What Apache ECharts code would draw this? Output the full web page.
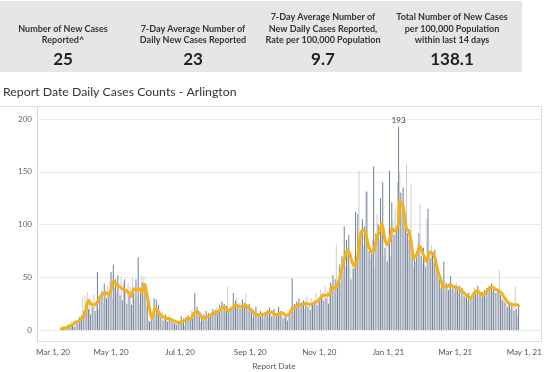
<!DOCTYPE html>
<html>
<head>
<meta charset="utf-8">
<script src="https://cdn.jsdelivr.net/npm/echarts@6/dist/echarts.min.js"></script>
<style>
html,body{margin:0;padding:0;background:#fff;}
#chart{width:547px;height:372px;}
</style>
</head>
<body>
<div id="chart"></div>
<script>
// ---- data ----
const startDate = '2020-03-18';
const dailyCases = [
  1, 0, 2, 3, 1, 4, 5,
  6, 4, 8, 5, 9, 3, 7,
  9, 6, 12, 8, 14, 31, 18,
  33, 24, 36, 20, 30, 15, 27,
  22, 34, 18, 28, 55, 19, 30,
  35, 37, 26, 44, 38, 30, 42,
  34, 46, 55, 30, 62, 40, 48,
  36, 52, 44, 33, 50, 28, 45,
  48, 38, 25, 44, 33, 41, 24,
  50, 36, 29, 48, 32, 69, 25,
  40, 52, 45, 50, 38, 22, 30,
  10, 8, 9, 12, 10, 30, 15,
  29, 18, 24, 14, 12, 17, 9,
  12, 15, 10, 8, 14, 11, 9,
  8, 10, 6, 9, 5, 7, 8,
  6, 13, 7, 11, 4, 12, 10,
  14, 9, 12, 18, 11, 17, 35,
  16, 22, 19, 13, 8, 12, 10,
  15, 12, 18, 9, 16, 14, 13,
  17, 20, 13, 19, 22, 15, 18,
  24, 19, 27, 21, 25, 18, 23,
  41, 20, 15, 22, 19, 35, 25,
  28, 30, 22, 26, 20, 24, 29,
  21, 26, 35, 24, 18, 25, 20,
  17, 12, 19, 14, 22, 11, 16,
  13, 18, 12, 15, 10, 17, 16,
  19, 14, 21, 16, 13, 18, 20,
  12, 16, 13, 22, 15, 18, 14,
  11, 16, 12, 14, 9, 13, 18,
  22, 49, 18, 25, 20, 27, 23,
  30, 21, 26, 24, 28, 20, 27,
  32, 22, 25, 19, 30, 26, 24,
  28, 35, 24, 31, 27, 38, 33,
  36, 28, 42, 30, 37, 25, 40,
  45, 38, 52, 35, 48, 81, 42,
  50, 62, 45, 70, 55, 98, 60,
  85, 72, 90, 60, 48, 66, 58,
  70, 112, 62, 110, 151, 88, 95,
  105, 80, 98, 132, 131, 70, 75,
  68, 72, 85, 155, 60, 92, 110,
  100, 85, 125, 95, 140, 70, 78,
  82, 65, 88, 151, 70, 121, 105,
  90, 115, 98, 140, 193, 150, 130,
  120, 135, 110, 100, 157, 92, 85,
  95, 139, 80, 60, 70, 65, 75,
  82, 92, 120, 70, 62, 78, 68,
  60, 106, 115, 70, 68, 80, 72,
  65, 76, 58, 62, 48, 55, 40,
  42, 38, 65, 36, 45, 40, 38,
  44, 51, 38, 42, 36, 40, 45,
  38, 35, 42, 30, 40, 36, 32,
  30, 34, 28, 35, 25, 32, 29,
  36, 40, 34, 38, 42, 33, 35,
  30, 36, 33, 38, 31, 40, 35,
  42, 38, 44, 36, 40, 39, 35,
  38, 36, 57, 33, 30, 28, 34,
  26, 30, 22, 28, 24, 20, 26,
  22, 18, 41, 20, 14, 25
];
const sevenDayAvg = [
  1, 1, 2, 2, 2, 3, 3,
  4, 4, 5, 5, 6, 7, 7,
  8, 9, 9, 10, 11, 12, 13,
  15, 20, 25, 28, 27, 25, 24,
  24, 23, 24, 24, 26, 29, 31,
  32, 33, 34, 35, 35, 35, 34,
  33, 33, 38, 42, 46, 45, 44,
  43, 42, 42, 41, 40, 39, 38,
  38, 37, 37, 37, 35, 34, 32,
  36, 39, 39, 38, 38, 38, 39,
  39, 35, 38, 41, 43, 38, 32,
  27, 20, 15, 11, 14, 18, 20,
  21, 19, 17, 15, 14, 13, 12,
  12, 11, 11, 11, 11, 11, 10,
  10, 9, 9, 8, 8, 7, 7,
  7, 7, 8, 8, 9, 9, 10,
  10, 11, 11, 11, 13, 16, 17,
  17, 18, 17, 16, 14, 12, 11,
  11, 12, 12, 13, 13, 14, 14,
  15, 15, 16, 16, 17, 17, 18,
  19, 20, 21, 22, 22, 21, 20,
  19, 18, 19, 20, 21, 22, 23,
  24, 24, 23, 23, 22, 22, 22,
  22, 23, 23, 23, 22, 21, 20,
  19, 18, 16, 16, 15, 15, 14,
  14, 14, 14, 15, 15, 15, 15,
  16, 16, 17, 17, 17, 16, 15,
  14, 14, 15, 15, 16, 16, 17,
  16, 15, 14, 13, 14, 15, 16,
  18, 20, 20, 21, 22, 23, 23,
  24, 24, 24, 25, 25, 25, 25,
  25, 25, 24, 24, 24, 25, 25,
  26, 26, 27, 28, 29, 30, 32,
  32, 33, 33, 33, 33, 33, 34,
  36, 39, 41, 40, 39, 39, 42,
  46, 50, 54, 58, 62, 67, 71,
  74, 76, 76, 72, 68, 64, 62,
  61, 60, 60, 70, 80, 88, 93,
  94, 95, 96, 92, 87, 82, 78,
  76, 74, 73, 75, 79, 84, 88,
  91, 94, 96, 101, 98, 92, 85,
  83, 81, 80, 84, 89, 96, 95,
  94, 93, 95, 97, 100, 123, 121,
  120, 118, 110, 102, 96, 95, 94,
  93, 85, 76, 68, 69, 70, 71,
  74, 77, 79, 77, 74, 71, 69,
  67, 65, 69, 72, 74, 74, 73,
  73, 69, 64, 59, 55, 52, 49,
  45, 40, 40, 41, 41, 41, 42,
  43, 43, 42, 41, 41, 41, 41,
  40, 39, 38, 37, 37, 36, 35,
  34, 33, 32, 31, 30, 31, 32,
  33, 35, 37, 38, 37, 36, 35,
  34, 33, 33, 34, 35, 36, 38,
  39, 40, 41, 41, 40, 39, 39,
  38, 38, 37, 36, 35, 33, 32,
  30, 29, 27, 26, 25, 24, 24,
  24, 24, 24, 24, 23, 23
];
const xTickDates = ['2020-03-01','2020-05-01','2020-07-01','2020-09-01','2020-11-01','2021-01-01','2021-03-01','2021-05-01'];
const xTickLabels = ['Mar 1, 20','May 1, 20','Jul 1, 20','Sep 1, 20','Nov 1, 20','Jan 1, 21','Mar 1, 21','May 1, 21'];
const yTicks = [0, 50, 100, 150, 200];
const kpiLabels = [
  ['Number of New Cases', 'Reported^'],
  ['7-Day Average Number of', 'Daily New Cases Reported'],
  ['7-Day Average Number of', 'New Daily Cases Reported,', 'Rate per 100,000 Population'],
  ['Total Number of New Cases', 'per 100,000 Population', 'within last 14 days']
];
const kpiValues = ['25', '23', '9.7', '138.1'];
const chartTitle = 'Report Date Daily Cases Counts - Arlington';
const xAxisTitle = 'Report Date';

// ---- helpers ----
const ORIGIN = Date.UTC(2020, 2, 1);
const dayOf = s => Math.round((Date.parse(s + 'T00:00:00Z') - ORIGIN) / 86400000);
const d0 = dayOf(startDate);
const tickDays = xTickDates.map(dayOf);
const maxVal = Math.max.apply(null, dailyCases);

const DARK = '#6f7f99', LIGHT = '#cacdd2', ORANGE = '#f5b11a';
const FONT = 'Lato';

const barData = dailyCases.map((v, i) => {
  const item = { value: [d0 + i, v], itemStyle: { color: i % 2 === 0 ? DARK : LIGHT } };
  if (v === maxVal) item.label = { show: true, position: 'top', distance: 2, fontSize: 8, color: '#444', fontFamily: FONT };
  return item;
});
const lineData = sevenDayAvg.map((v, i) => [d0 + i, v]);

// ---- graphics (header, borders, titles) ----
const colCenters = [63, 193, 323, 452];
const graphics = [
  { type: 'rect', shape: { x: 0, y: 1, width: 522, height: 71 }, style: { fill: '#e6e6e6' }, silent: true },
  { type: 'text', x: 3, y: 92, style: { text: chartTitle, font: '12.3px ' + FONT, fill: '#333', textVerticalAlign: 'middle' } },
  { type: 'line', shape: { x1: 0, y1: 106.5, x2: 542, y2: 106.5 }, style: { stroke: '#dedede', lineWidth: 1 } },
  { type: 'line', shape: { x1: 541.5, y1: 106, x2: 541.5, y2: 342 }, style: { stroke: '#dedede', lineWidth: 1 } },
  { type: 'line', shape: { x1: 37, y1: 341.5, x2: 542, y2: 341.5 }, style: { stroke: '#dedede', lineWidth: 1 } },
  { type: 'line', shape: { x1: 37.5, y1: 106, x2: 37.5, y2: 342 }, style: { stroke: '#d4d4d4', lineWidth: 1 } },
  { type: 'text', x: 274, y: 366, style: { text: xAxisTitle, font: '8px ' + FONT, fill: '#555', textAlign: 'center', textVerticalAlign: 'middle' } }
];
kpiLabels.forEach((lines, c) => {
  const lineYs = lines.length === 2 ? [29, 40] : [17, 29, 40];
  lines.forEach((t, k) => {
    graphics.push({ type: 'text', x: colCenters[c], y: lineYs[k],
      style: { text: t, font: 'bold 9px ' + FONT, fill: '#333', textAlign: 'center', textVerticalAlign: 'middle' } });
  });
  graphics.push({ type: 'text', x: colCenters[c], y: 60,
    style: { text: kpiValues[c], font: 'bold 17px ' + FONT, fill: '#222', textAlign: 'center', textVerticalAlign: 'middle' } });
});

const chart = echarts.init(document.getElementById('chart'));
chart.setOption({
  animation: false,
  textStyle: { fontFamily: FONT },
  grid: { left: 37, right: 5, top: 119, bottom: 42 },
  xAxis: {
    type: 'value', min: -4.4, max: 441.7,
    splitLine: { show: false }, axisLine: { show: false }, axisTick: { show: false },
    axisLabel: {
      customValues: tickDays, margin: 18, fontSize: 8, color: '#555', fontFamily: FONT,
      formatter: v => {
        const i = tickDays.indexOf(v);
        const t = i >= 0 ? xTickLabels[i] : '';
        return i === 0 ? '{f|' + t + '}' : t;
      },
      rich: { f: { padding: [0, 0, 0, 22], fontSize: 8, color: '#555', fontFamily: FONT } }
    }
  },
  yAxis: {
    type: 'value', min: yTicks[0], max: yTicks[yTicks.length - 1], interval: yTicks[1] - yTicks[0],
    axisLine: { show: false }, axisTick: { show: false },
    splitLine: { lineStyle: { color: '#ececec', width: 1 } },
    axisLabel: { margin: 5, fontSize: 8, color: '#666', fontFamily: FONT }
  },
  series: [
    { type: 'bar', data: barData, barWidth: 1, z: 2 },
    { type: 'line', data: lineData, showSymbol: false, symbol: 'none', z: 3,
      lineStyle: { color: ORANGE, width: 3, join: 'round', cap: 'round' } }
  ],
  graphic: graphics
});
</script>
</body>
</html>
